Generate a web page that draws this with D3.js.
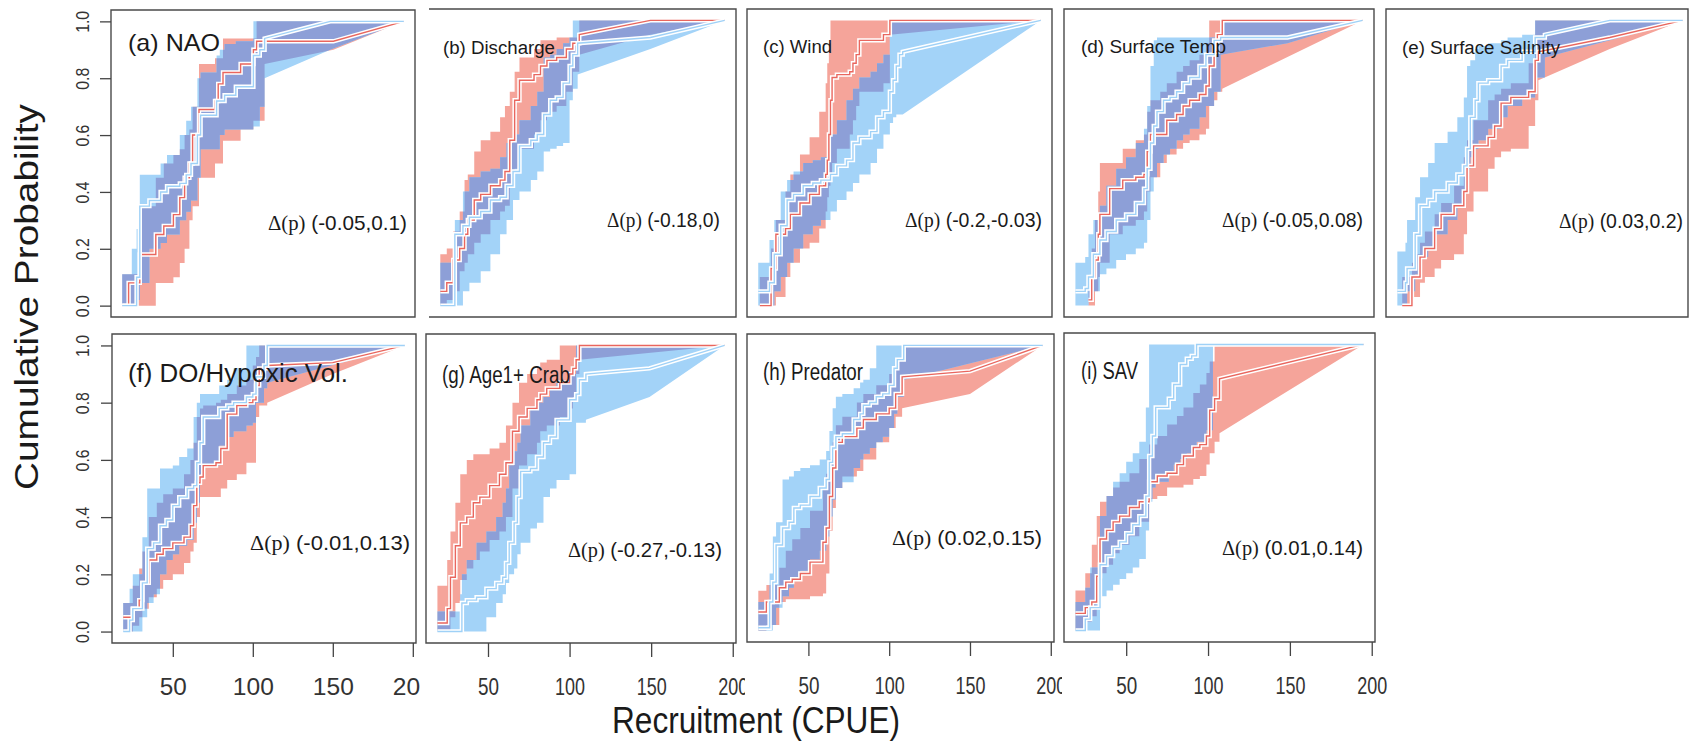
<!DOCTYPE html>
<html>
<head>
<meta charset="utf-8">
<script src="https://cdn.jsdelivr.net/npm/d3@7"></script>
<style>
  body { margin: 0; background: #fff; }
  svg { display: block; font-family: "Liberation Sans", Arial, sans-serif; }
</style>
</head>
<body>
<svg id="chart" width="1690" height="746"></svg>
<script>
// ---- data: CDF knots (x = CPUE), lower / median / upper probability ----
const panelTitles = ["(a) NAO", "(b) Discharge", "(c) Wind", "(d) Surface Temp", "(e) Surface Salinity",
                     "(f) DO/Hypoxic Vol.", "(g) Age1+ Crab", "(h) Predator", "(i) SAV"];
const deltaRanges = ["(-0.05,0.1)", "(-0.18,0)", "(-0.2,-0.03)", "(-0.05,0.08)", "(0.03,0.2)",
                     "(-0.01,0.13)", "(-0.27,-0.13)", "(0.02,0.15)", "(0.01,0.14)"];
const yTicks = [0, 0.2, 0.4, 0.6, 0.8, 1.0];
const xTicks = [50, 100, 150, 200];
const xDomain = [12, 202];
const yDomain = [-0.04, 1.04];

const naoRed = {
  x:   [19, 23, 30, 40, 45, 51, 55, 58, 61, 63, 67, 77, 79, 82, 93, 101, 103, 108, 151, 195],
  lo:  [0, 0, 0, 0.08, 0.08, 0.1, 0.15, 0.2, 0.3, 0.35, 0.45, 0.5, 0.5, 0.58, 0.62, 0.65, 0.65, 0.85, 0.9, 1],
  mid: [0, 0.08, 0.18, 0.25, 0.28, 0.32, 0.38, 0.45, 0.5, 0.6, 0.69, 0.72, 0.78, 0.82, 0.85, 0.9, 0.93, 0.93, 0.93, 1],
  hi:  [0.11, 0.11, 0.35, 0.45, 0.5, 0.53, 0.55, 0.6, 0.62, 0.7, 0.85, 0.87, 0.87, 0.94, 0.94, 0.94, 1, 1, 1, 1]
};
const naoBlue = {
  x:   [19, 25, 28, 30, 36, 43, 47, 55, 59, 62, 66, 68, 78, 80, 83, 90, 101, 105, 108, 149, 195],
  lo:  [0, 0, 0.02, 0.08, 0.2, 0.22, 0.25, 0.3, 0.33, 0.37, 0.45, 0.55, 0.55, 0.6, 0.62, 0.62, 0.63, 0.7, 0.8, 0.9, 1],
  mid: [0, 0, 0.1, 0.35, 0.37, 0.4, 0.42, 0.43, 0.46, 0.5, 0.6, 0.67, 0.72, 0.72, 0.74, 0.77, 0.88, 0.9, 0.94, 1, 1],
  hi:  [0.11, 0.2, 0.27, 0.46, 0.46, 0.5, 0.53, 0.6, 0.65, 0.7, 0.8, 0.82, 0.88, 0.9, 0.92, 0.93, 1, 1, 1, 1, 1]
};
const dischargeRed = {
  x:   [19, 23, 27, 31, 34, 36, 40, 44, 50, 56, 59, 62, 65, 68, 77, 81, 85, 91, 97, 101, 105, 149, 195],
  lo:  [0, 0.02, 0.05, 0.12, 0.15, 0.18, 0.22, 0.25, 0.3, 0.33, 0.35, 0.42, 0.48, 0.55, 0.6, 0.65, 0.68, 0.7, 0.75, 0.82, 0.88, 0.95, 1],
  mid: [0.05, 0.08, 0.16, 0.2, 0.25, 0.3, 0.37, 0.39, 0.42, 0.44, 0.47, 0.58, 0.72, 0.79, 0.81, 0.84, 0.86, 0.87, 0.9, 0.92, 0.95, 1, 1],
  hi:  [0.18, 0.2, 0.26, 0.33, 0.44, 0.46, 0.54, 0.58, 0.61, 0.66, 0.7, 0.75, 0.82, 0.87, 0.9, 0.93, 0.93, 0.94, 0.94, 0.94, 1, 1, 1]
};
const dischargeBlue = {
  x:   [19, 28, 33, 37, 44, 50, 56, 60, 64, 68, 75, 79, 83, 87, 91, 95, 99, 101, 104, 149, 195],
  lo:  [0, 0, 0.05, 0.08, 0.12, 0.18, 0.25, 0.3, 0.37, 0.4, 0.44, 0.47, 0.54, 0.55, 0.56, 0.57, 0.72, 0.76, 0.81, 0.9, 1],
  mid: [0, 0.25, 0.28, 0.31, 0.33, 0.37, 0.38, 0.42, 0.47, 0.56, 0.58, 0.6, 0.67, 0.72, 0.73, 0.78, 0.84, 0.88, 0.92, 0.94, 1],
  hi:  [0.15, 0.3, 0.4, 0.45, 0.47, 0.48, 0.52, 0.57, 0.6, 0.65, 0.7, 0.75, 0.87, 0.88, 0.9, 0.92, 0.94, 1, 1, 1, 1]
};
const windRed = {
  x:   [20, 27, 30, 36, 39, 45, 51, 57, 61, 62, 63, 64, 65, 68, 76, 78, 80, 82, 97, 101, 195],
  lo:  [0, 0, 0.03, 0.1, 0.15, 0.2, 0.22, 0.27, 0.33, 0.38, 0.42, 0.45, 0.5, 0.55, 0.6, 0.65, 0.7, 0.75, 0.78, 0.95, 1],
  mid: [0, 0.13, 0.25, 0.27, 0.32, 0.36, 0.39, 0.42, 0.46, 0.51, 0.6, 0.72, 0.8, 0.81, 0.82, 0.85, 0.88, 0.93, 0.95, 1, 1],
  hi:  [0.1, 0.2, 0.3, 0.4, 0.46, 0.53, 0.59, 0.68, 0.78, 0.85, 0.92, 1, 1, 1, 1, 1, 1, 1, 1, 1, 1]
};
const windBlue = {
  x:   [19, 26, 29, 33, 37, 41, 47, 53, 58, 64, 68, 74, 78, 82, 89, 93, 97, 101, 103, 105, 107, 109, 195],
  lo:  [0, 0, 0.05, 0.1, 0.15, 0.2, 0.25, 0.28, 0.3, 0.33, 0.37, 0.4, 0.43, 0.46, 0.5, 0.55, 0.6, 0.64, 0.66, 0.67, 0.67, 0.67, 1],
  mid: [0.05, 0.08, 0.18, 0.28, 0.37, 0.39, 0.42, 0.43, 0.44, 0.46, 0.49, 0.51, 0.57, 0.59, 0.61, 0.66, 0.68, 0.75, 0.79, 0.84, 0.88, 0.89, 1],
  hi:  [0.15, 0.23, 0.3, 0.4, 0.44, 0.47, 0.5, 0.51, 0.52, 0.6, 0.65, 0.72, 0.76, 0.8, 0.82, 0.85, 0.88, 1, 1, 1, 1, 1, 1]
};
const tempRed = {
  x:   [27, 29, 31, 33, 34, 40, 48, 56, 61, 63, 65, 71, 75, 81, 85, 89, 95, 99, 101, 104, 106, 109, 195],
  lo:  [0, 0, 0.05, 0.1, 0.15, 0.25, 0.28, 0.3, 0.33, 0.4, 0.45, 0.5, 0.53, 0.55, 0.57, 0.58, 0.6, 0.62, 0.7, 0.72, 0.75, 0.76, 1],
  mid: [0.02, 0.1, 0.16, 0.25, 0.32, 0.41, 0.44, 0.45, 0.46, 0.54, 0.6, 0.6, 0.65, 0.67, 0.7, 0.72, 0.74, 0.77, 0.84, 0.89, 0.95, 1, 1],
  hi:  [0.1, 0.2, 0.3, 0.4, 0.5, 0.5, 0.55, 0.58, 0.6, 0.68, 0.72, 0.75, 0.78, 0.82, 0.84, 0.86, 0.88, 0.92, 1, 1, 1, 1, 1]
};
const tempBlue = {
  x:   [19, 25, 27, 30, 34, 38, 44, 50, 56, 61, 63, 65, 67, 69, 73, 77, 81, 85, 89, 95, 99, 104, 108, 149, 195],
  lo:  [0, 0, 0.02, 0.05, 0.11, 0.13, 0.16, 0.18, 0.2, 0.22, 0.3, 0.4, 0.45, 0.5, 0.53, 0.55, 0.58, 0.6, 0.62, 0.66, 0.7, 0.75, 0.88, 0.92, 1],
  mid: [0.05, 0.06, 0.1, 0.18, 0.23, 0.26, 0.3, 0.32, 0.36, 0.41, 0.48, 0.57, 0.63, 0.68, 0.72, 0.73, 0.75, 0.78, 0.8, 0.84, 0.88, 0.93, 0.94, 0.94, 1],
  hi:  [0.15, 0.17, 0.25, 0.3, 0.35, 0.42, 0.48, 0.52, 0.57, 0.62, 0.7, 0.84, 0.93, 0.94, 0.94, 0.94, 0.94, 0.94, 0.94, 0.94, 0.94, 0.94, 1, 1, 1]
};
const salinityRed = {
  x:   [22, 28, 29, 33, 36, 42, 46, 54, 60, 62, 66, 75, 79, 83, 89, 100, 104, 106, 150, 195],
  lo:  [0, 0, 0.03, 0.08, 0.1, 0.13, 0.16, 0.18, 0.25, 0.33, 0.4, 0.48, 0.52, 0.54, 0.55, 0.63, 0.72, 0.79, 0.9, 1],
  mid: [0, 0.1, 0.1, 0.17, 0.2, 0.27, 0.32, 0.35, 0.4, 0.49, 0.56, 0.59, 0.63, 0.71, 0.73, 0.75, 0.86, 0.89, 0.94, 1],
  hi:  [0.1, 0.15, 0.18, 0.22, 0.26, 0.32, 0.36, 0.42, 0.52, 0.58, 0.65, 0.72, 0.74, 0.76, 0.78, 0.85, 1, 1, 1, 1]
};
const salinityBlue = {
  x:   [19, 24, 25, 30, 33, 38, 42, 50, 56, 60, 62, 64, 67, 69, 75, 83, 87, 96, 104, 110, 150, 195],
  lo:  [0, 0, 0.05, 0.11, 0.17, 0.2, 0.25, 0.3, 0.35, 0.4, 0.48, 0.52, 0.55, 0.58, 0.62, 0.66, 0.7, 0.73, 0.8, 0.87, 0.93, 1],
  mid: [0.05, 0.08, 0.13, 0.25, 0.35, 0.37, 0.4, 0.43, 0.46, 0.49, 0.55, 0.66, 0.72, 0.78, 0.79, 0.84, 0.86, 0.89, 0.94, 0.95, 1, 1],
  hi:  [0.19, 0.22, 0.3, 0.38, 0.45, 0.5, 0.57, 0.61, 0.66, 0.73, 0.84, 0.86, 0.9, 0.91, 0.92, 0.93, 0.94, 0.95, 1, 1, 1, 1]
};
const hypoxRed = {
  x:   [19, 25, 29, 31, 35, 40, 44, 50, 57, 61, 63, 65, 67, 69, 77, 80, 84, 90, 96, 100, 102, 104, 109, 150, 195],
  lo:  [0, 0.02, 0.05, 0.08, 0.12, 0.15, 0.18, 0.2, 0.24, 0.28, 0.31, 0.4, 0.47, 0.47, 0.47, 0.5, 0.53, 0.55, 0.59, 0.59, 0.75, 0.79, 0.8, 0.9, 1],
  mid: [0.05, 0.08, 0.11, 0.17, 0.25, 0.27, 0.29, 0.31, 0.33, 0.37, 0.44, 0.52, 0.54, 0.58, 0.59, 0.64, 0.76, 0.79, 0.8, 0.81, 0.86, 0.92, 0.93, 0.94, 1],
  hi:  [0.1, 0.16, 0.22, 0.28, 0.4, 0.45, 0.48, 0.5, 0.55, 0.6, 0.66, 0.75, 0.78, 0.79, 0.8, 0.81, 0.83, 0.86, 0.88, 0.93, 0.96, 1, 1, 1, 1]
};
const hypoxBlue = {
  x:   [19, 23, 25, 31, 34, 38, 42, 46, 50, 54, 59, 63, 65, 67, 69, 79, 84, 88, 96, 100, 102, 107, 109, 195],
  lo:  [0, 0, 0, 0.05, 0.1, 0.13, 0.2, 0.25, 0.27, 0.3, 0.32, 0.38, 0.45, 0.55, 0.58, 0.65, 0.68, 0.7, 0.72, 0.73, 0.8, 0.85, 0.87, 1],
  mid: [0, 0.04, 0.08, 0.17, 0.29, 0.31, 0.37, 0.39, 0.44, 0.47, 0.5, 0.51, 0.59, 0.66, 0.75, 0.78, 0.79, 0.8, 0.82, 0.83, 0.89, 0.93, 1, 1],
  hi:  [0.1, 0.15, 0.2, 0.33, 0.5, 0.5, 0.57, 0.57, 0.58, 0.61, 0.64, 0.75, 0.8, 0.83, 0.83, 0.86, 0.88, 0.92, 1, 1, 1, 1, 1, 1]
};
const crabRed = {
  x:   [19, 25, 27, 30, 33, 37, 41, 45, 51, 57, 61, 65, 69, 74, 80, 82, 86, 94, 100, 102, 104, 106, 195],
  lo:  [0, 0, 0.05, 0.1, 0.18, 0.22, 0.25, 0.28, 0.32, 0.35, 0.4, 0.5, 0.58, 0.62, 0.66, 0.7, 0.72, 0.75, 0.78, 0.82, 0.9, 0.95, 1],
  mid: [0.03, 0.08, 0.19, 0.3, 0.38, 0.4, 0.45, 0.47, 0.51, 0.55, 0.59, 0.7, 0.75, 0.78, 0.81, 0.83, 0.85, 0.87, 0.9, 0.92, 0.95, 1, 1],
  hi:  [0.16, 0.25, 0.35, 0.45, 0.55, 0.6, 0.62, 0.62, 0.64, 0.66, 0.72, 0.8, 0.87, 0.9, 0.92, 0.94, 0.95, 1, 1, 1, 1, 1, 1]
};
const crabBlue = {
  x:   [19, 33, 34, 37, 43, 49, 55, 59, 61, 63, 66, 68, 70, 76, 80, 84, 88, 92, 100, 104, 106, 110, 149, 195],
  lo:  [0, 0, 0, 0, 0, 0.05, 0.1, 0.13, 0.17, 0.2, 0.22, 0.27, 0.31, 0.36, 0.38, 0.47, 0.5, 0.53, 0.55, 0.73, 0.73, 0.74, 0.82, 1],
  mid: [0, 0, 0.1, 0.11, 0.12, 0.15, 0.17, 0.19, 0.24, 0.31, 0.38, 0.47, 0.56, 0.57, 0.61, 0.66, 0.68, 0.74, 0.81, 0.83, 0.88, 0.9, 0.92, 1],
  hi:  [0.07, 0.13, 0.2, 0.25, 0.31, 0.35, 0.4, 0.45, 0.5, 0.58, 0.63, 0.66, 0.72, 0.78, 0.8, 0.82, 0.85, 0.87, 0.9, 1, 1, 1, 1, 1]
};
const predRed = {
  x:   [19, 24, 32, 36, 40, 45, 51, 59, 61, 63, 65, 67, 71, 80, 84, 92, 100, 104, 108, 150, 195],
  lo:  [0, 0.02, 0.1, 0.11, 0.11, 0.11, 0.12, 0.13, 0.2, 0.35, 0.43, 0.5, 0.54, 0.56, 0.6, 0.66, 0.71, 0.75, 0.78, 0.83, 1],
  mid: [0.065, 0.1, 0.15, 0.17, 0.18, 0.2, 0.24, 0.31, 0.36, 0.47, 0.57, 0.66, 0.68, 0.71, 0.74, 0.76, 0.78, 0.83, 0.89, 0.91, 1],
  hi:  [0.14, 0.16, 0.22, 0.28, 0.32, 0.36, 0.42, 0.5, 0.55, 0.6, 0.66, 0.72, 0.75, 0.8, 0.83, 0.86, 0.9, 0.95, 1, 1, 1]
};
const predBlue = {
  x:   [19, 26, 28, 30, 34, 38, 41, 45, 51, 57, 61, 63, 65, 67, 71, 78, 82, 84, 88, 92, 96, 100, 103, 105, 109, 195],
  lo:  [0, 0, 0.02, 0.08, 0.12, 0.15, 0.18, 0.21, 0.25, 0.28, 0.33, 0.4, 0.46, 0.5, 0.52, 0.57, 0.6, 0.62, 0.64, 0.66, 0.68, 0.71, 0.76, 0.82, 0.88, 1],
  mid: [0.01, 0.1, 0.17, 0.3, 0.36, 0.38, 0.43, 0.44, 0.47, 0.5, 0.53, 0.59, 0.64, 0.68, 0.69, 0.74, 0.76, 0.79, 0.8, 0.82, 0.83, 0.86, 0.92, 0.95, 1, 1],
  hi:  [0.1, 0.2, 0.33, 0.38, 0.53, 0.54, 0.56, 0.57, 0.58, 0.6, 0.63, 0.7, 0.78, 0.82, 0.83, 0.85, 0.87, 0.88, 0.92, 1, 1, 1, 1, 1, 1, 1]
};
const savRed = {
  x:   [19, 25, 29, 32, 34, 38, 42, 46, 52, 58, 64, 69, 75, 81, 85, 91, 95, 99, 101, 104, 107, 195],
  lo:  [0, 0.03, 0.05, 0.1, 0.2, 0.23, 0.27, 0.3, 0.33, 0.38, 0.46, 0.47, 0.5, 0.5, 0.51, 0.53, 0.54, 0.58, 0.62, 0.66, 0.69, 1],
  mid: [0.06, 0.08, 0.1, 0.19, 0.32, 0.35, 0.38, 0.4, 0.43, 0.45, 0.52, 0.54, 0.55, 0.58, 0.61, 0.64, 0.65, 0.68, 0.77, 0.81, 0.88, 1],
  hi:  [0.14, 0.2, 0.3, 0.4, 0.45, 0.47, 0.5, 0.52, 0.55, 0.6, 0.65, 0.68, 0.72, 0.75, 0.78, 0.83, 0.86, 0.9, 0.94, 1, 1, 1]
};
const savBlue = {
  x:   [19, 25, 28, 34, 38, 42, 46, 50, 54, 58, 62, 64, 66, 68, 76, 79, 83, 87, 90, 93, 99, 103, 195],
  lo:  [0, 0, 0, 0.12, 0.14, 0.16, 0.18, 0.2, 0.22, 0.25, 0.35, 0.45, 0.5, 0.52, 0.55, 0.58, 0.6, 0.62, 0.64, 0.66, 0.7, 1, 1],
  mid: [0, 0.04, 0.08, 0.23, 0.26, 0.29, 0.31, 0.34, 0.37, 0.4, 0.47, 0.61, 0.68, 0.78, 0.81, 0.86, 0.93, 0.95, 0.96, 1, 1, 1, 1],
  hi:  [0.1, 0.15, 0.22, 0.4, 0.47, 0.52, 0.55, 0.59, 0.62, 0.66, 0.78, 1, 1, 1, 1, 1, 1, 1, 1, 1, 1, 1, 1]
};

const redSeries  = [naoRed, dischargeRed, windRed, tempRed, salinityRed, hypoxRed, crabRed, predRed, savRed];
const blueSeries = [naoBlue, dischargeBlue, windBlue, tempBlue, salinityBlue, hypoxBlue, crabBlue, predBlue, savBlue];

// ---- layout (pixel boxes of the collage panels) ----
const boxes = [
  {l: 111, r: 415, t: 10, b: 317},
  {l: 429, r: 736, t: 9, b: 317, noLeft: true},
  {l: 747, r: 1052, t: 9, b: 317},
  {l: 1064, r: 1374, t: 9, b: 317},
  {l: 1386, r: 1694, t: 9, b: 317, edge: 1688},
  {l: 112, r: 416, t: 334, b: 643},
  {l: 426, r: 736, t: 334, b: 643},
  {l: 747, r: 1054, t: 334, b: 642},
  {l: 1064, r: 1375, t: 333, b: 642}
];
// title: [x, baseline, font size, length]
const titlePos = [[128, 51, 24, 92], [443, 54, 18, 112], [763, 53, 18, 69], [1081, 53, 18, 145], [1402, 54, 18, 158],
                  [128, 382, 25, 220], [442, 383, 23, 128], [763, 380, 23, 100], [1081, 379, 23, 57]];
// delta label: [right x, baseline, length]
const deltaPos = [[407, 230, 139], [720, 227, 113], [1042, 227, 137], [1363, 227, 141], [1683, 228, 124],
                  [410, 550, 160], [722, 557, 154], [1042, 545, 150], [1363, 555, 141]];

const colRed = "#f5a49a", colBlue = "#a3d3f8", colBoth = "#8d9fd7";
const lineRed = "#e9665e", lineBlue = "#9fd1f7";

const svg = d3.select("#chart");
const defs = svg.append("defs");

// step function; long gaps (sparse tail) are joined with straight segments
function stepPoints(xs, vs) {
  const pts = [[xs[0], vs[0]]];
  for (let i = 1; i < xs.length; i++) {
    if (xs[i] - xs[i - 1] <= 20) pts.push([xs[i], vs[i - 1]]);
    pts.push([xs[i], vs[i]]);
  }
  return pts;
}

boxes.forEach((bx, i) => {
  const x = d3.scaleLinear().domain(xDomain).range([bx.l, bx.r]);
  const y = d3.scaleLinear().domain(yDomain).range([bx.b, bx.t]);
  const line = d3.line().x(d => x(d[0])).y(d => y(d[1]));
  const bandPath = s => line(stepPoints(s.x, s.hi).concat(stepPoints(s.x, s.lo).reverse())) + "Z";

  const g = svg.append("g");
  const red = redSeries[i], blue = blueSeries[i];

  defs.append("clipPath").attr("id", "redband" + i)
    .append("path").attr("d", bandPath(red));

  g.append("path").attr("d", bandPath(red)).attr("fill", colRed);
  g.append("path").attr("d", bandPath(blue)).attr("fill", colBlue);
  g.append("path").attr("d", bandPath(blue)).attr("fill", colBoth)
    .attr("clip-path", "url(#redband" + i + ")");

  [[red, lineRed], [blue, lineBlue]].forEach(([s, c]) => {
    const d = line(stepPoints(s.x, s.mid));
    g.append("path").attr("d", d).attr("fill", "none").attr("stroke", "#fff")
      .attr("stroke-width", 4.4).attr("stroke-linejoin", "miter");
    g.append("path").attr("d", d).attr("fill", "none").attr("stroke", c)
      .attr("stroke-width", 1.4);
  });

  // panel frame
  const right = bx.edge || bx.r;
  const frame = [[bx.l, bx.t], [right, bx.t], [right, bx.b], [bx.l, bx.b]];
  const fd = bx.noLeft ? d3.line()(frame) : d3.line()(frame) + "Z";
  g.append("path").attr("d", fd).attr("fill", "none").attr("stroke", "#4a4a4a").attr("stroke-width", 1.4);

  // labels
  const tp = titlePos[i];
  g.append("text").attr("x", tp[0]).attr("y", tp[1]).attr("font-size", tp[2])
    .attr("textLength", tp[3]).attr("lengthAdjust", "spacingAndGlyphs")
    .attr("fill", "#1a1a1a").text(panelTitles[i]);

  const dp = deltaPos[i];
  const dt = g.append("text").attr("x", dp[0]).attr("y", dp[1]).attr("text-anchor", "end")
    .attr("font-size", 21).attr("textLength", dp[2]).attr("lengthAdjust", "spacingAndGlyphs")
    .attr("fill", "#1a1a1a");
  dt.append("tspan").attr("font-family", "'Liberation Serif', 'Times New Roman', serif").text("\u0394(p)");
  dt.append("tspan").text(" " + deltaRanges[i]);

  // y axis on the left column
  if (i === 0 || i === 5) {
    const ya = svg.append("g").attr("transform", `translate(${bx.l},0)`)
      .call(d3.axisLeft(y).tickValues(yTicks).tickSize(11).tickFormat(d3.format(".1f")));
    ya.select(".domain").remove();
    ya.attr("font-family", null).attr("font-size", null);
    ya.selectAll(".tick line").attr("stroke", "#444").attr("stroke-width", 1.3);
    ya.selectAll(".tick text")
      .attr("x", 0).attr("dy", null)
      .attr("transform", `translate(${i === 0 ? -22.5 : -23.5},0) rotate(-90)`)
      .attr("text-anchor", "middle").attr("font-size", 19)
      .attr("textLength", 22).attr("lengthAdjust", "spacingAndGlyphs")
      .attr("fill", "#333");
  }

  // x axis on the bottom row (labels clipped where the next panel starts)
  if (i >= 5) {
    const clipRight = [420, 745, 1062, 1420][i - 5];
    defs.append("clipPath").attr("id", "xlab" + i).append("rect")
      .attr("x", bx.l - 60).attr("y", 0).attr("width", clipRight - bx.l + 60).attr("height", 80);
    const wide = i === 5;
    const xa = svg.append("g").attr("transform", `translate(0,${bx.b})`)
      .attr("clip-path", "url(#xlab" + i + ")")
      .call(d3.axisBottom(x).tickValues(xTicks).tickSize(14).tickFormat(d3.format("d")));
    xa.select(".domain").remove();
    xa.attr("font-family", null).attr("font-size", null);
    xa.selectAll(".tick line").attr("stroke", "#444").attr("stroke-width", 1.3);
    xa.selectAll(".tick text")
      .attr("y", 52).attr("dy", null).attr("font-size", 24)
      .attr("textLength", d => d < 100 ? (wide ? 27 : 21) : (wide ? 41 : 30))
      .attr("lengthAdjust", "spacingAndGlyphs")
      .attr("fill", "#333");
  }
});

// axis titles
svg.append("text")
  .attr("transform", "translate(38,297) rotate(-90)")
  .attr("text-anchor", "middle").attr("font-size", 33)
  .attr("textLength", 386).attr("lengthAdjust", "spacingAndGlyphs")
  .attr("fill", "#1a1a1a").text("Cumulative Probability");

svg.append("text")
  .attr("x", 612).attr("y", 733).attr("font-size", 36)
  .attr("textLength", 288).attr("lengthAdjust", "spacingAndGlyphs")
  .attr("fill", "#1a1a1a").text("Recruitment (CPUE)");
</script>
</body>
</html>
